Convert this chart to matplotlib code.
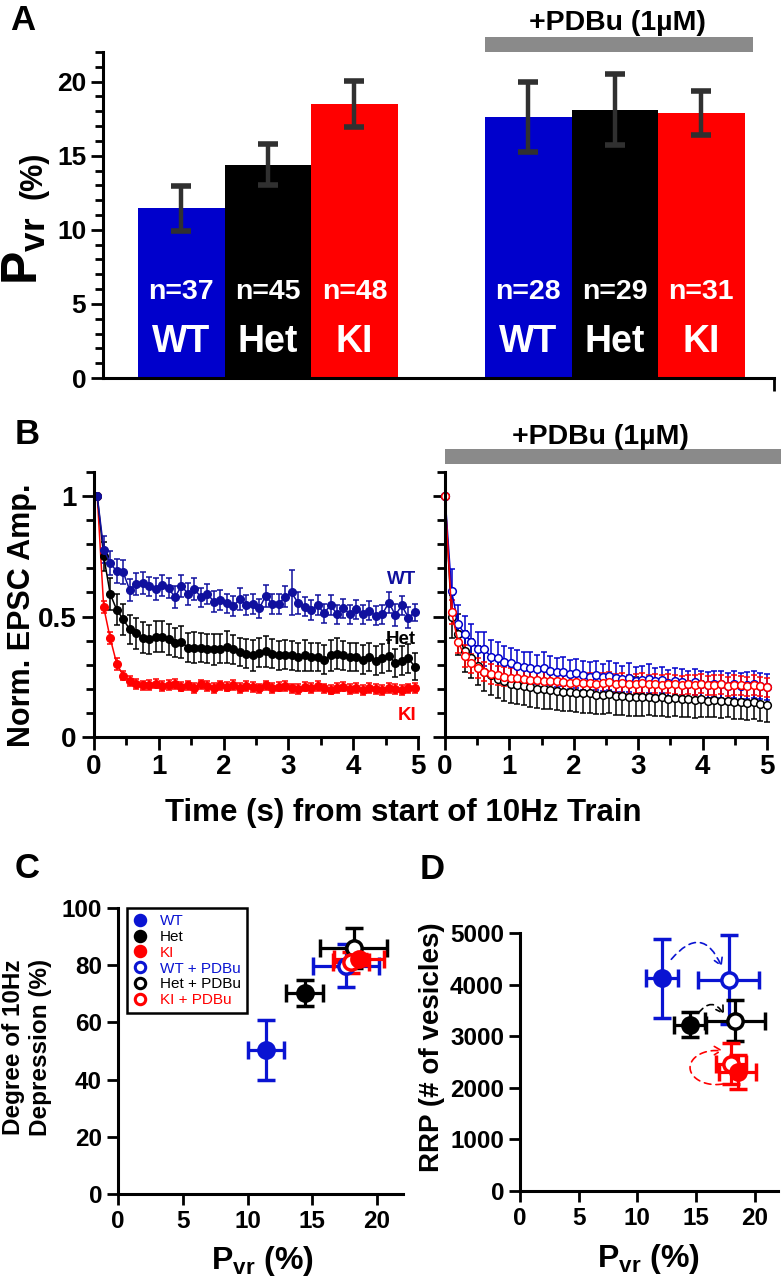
import numpy as np
import matplotlib
matplotlib.use("Agg")
import matplotlib.pyplot as plt
from matplotlib.patches import Rectangle, FancyArrowPatch
from matplotlib.path import Path
from matplotlib.lines import Line2D
from matplotlib.ticker import MultipleLocator, FuncFormatter

plt.rcParams['font.family'] = ['Liberation Sans', 'DejaVu Sans']
plt.rcParams['font.weight'] = 'bold'
plt.rcParams['axes.linewidth'] = 2.2
plt.rcParams['mathtext.fontset'] = 'custom'
plt.rcParams['mathtext.bf'] = 'Liberation Sans:bold'
plt.rcParams['mathtext.rm'] = 'Liberation Sans:bold'

# ---- panel A data ----
genotypes = ["WT", "Het", "KI"]
n_ctrl = [37, 45, 48]
n_pdbu = [28, 29, 31]
pvr_ctrl = [11.45, 14.4, 18.5]
pvr_ctrl_err = [1.5, 1.4, 1.55]
pvr_pdbu = [17.6, 18.1, 17.9]
pvr_pdbu_err = [2.35, 2.4, 1.5]

# ---- panel B data (normalised EPSC amplitude, 10 Hz train) ----
wt_ctrl = [1.000, 0.778, 0.722, 0.688, 0.684, 0.611, 0.636, 0.639, 0.625, 0.615,
           0.629, 0.618, 0.580, 0.628, 0.594, 0.615, 0.580, 0.594, 0.562, 0.569,
           0.555, 0.544, 0.573, 0.548, 0.552, 0.534, 0.586, 0.552, 0.552, 0.583,
           0.600, 0.555, 0.541, 0.527, 0.548, 0.513, 0.548, 0.510, 0.534, 0.510,
           0.530, 0.509, 0.524, 0.503, 0.510, 0.558, 0.506, 0.546, 0.496, 0.517]
wt_ctrl_err = [0.0, 0.055, 0.05, 0.05, 0.05, 0.045, 0.045, 0.045, 0.04, 0.045,
               0.045, 0.04, 0.045, 0.045, 0.045, 0.045, 0.04, 0.04, 0.045, 0.04,
               0.04, 0.04, 0.045, 0.04, 0.04, 0.04, 0.045, 0.04, 0.04, 0.045,
               0.095, 0.045, 0.04, 0.04, 0.04, 0.04, 0.04, 0.04, 0.04, 0.04,
               0.04, 0.04, 0.04, 0.04, 0.04, 0.045, 0.045, 0.04, 0.045, 0.035]
het_ctrl = [1.000, 0.750, 0.594, 0.528, 0.489, 0.447, 0.430, 0.413, 0.405, 0.416,
            0.416, 0.406, 0.391, 0.395, 0.371, 0.371, 0.370, 0.367, 0.364, 0.367,
            0.374, 0.364, 0.353, 0.346, 0.339, 0.349, 0.356, 0.346, 0.339, 0.342,
            0.339, 0.332, 0.339, 0.332, 0.332, 0.321, 0.339, 0.346, 0.339, 0.332,
            0.332, 0.321, 0.332, 0.317, 0.327, 0.337, 0.307, 0.317, 0.327, 0.292]
het_ctrl_err = [0.0, 0.06, 0.065, 0.065, 0.065, 0.06, 0.065, 0.065, 0.06, 0.065,
                0.065, 0.065, 0.06, 0.065, 0.06, 0.065, 0.06, 0.06, 0.065, 0.06,
                0.065, 0.06, 0.06, 0.06, 0.065, 0.06, 0.065, 0.06, 0.06, 0.06,
                0.06, 0.06, 0.065, 0.06, 0.06, 0.06, 0.065, 0.065, 0.06, 0.06,
                0.06, 0.06, 0.06, 0.06, 0.06, 0.065, 0.06, 0.06, 0.06, 0.055]
ki_ctrl = [1.000, 0.538, 0.410, 0.305, 0.255, 0.232, 0.219, 0.214, 0.216, 0.222,
           0.212, 0.216, 0.219, 0.209, 0.214, 0.204, 0.218, 0.212, 0.204, 0.214,
           0.209, 0.217, 0.204, 0.212, 0.208, 0.202, 0.214, 0.204, 0.209, 0.212,
           0.202, 0.199, 0.209, 0.204, 0.212, 0.202, 0.197, 0.204, 0.209, 0.199,
           0.204, 0.194, 0.204, 0.199, 0.194, 0.204, 0.199, 0.194, 0.202, 0.204]
ki_ctrl_err = [0.0, 0.025, 0.025, 0.025, 0.02, 0.02, 0.02, 0.02, 0.02, 0.02,
               0.02, 0.02, 0.02, 0.02, 0.02, 0.02, 0.02, 0.02, 0.02, 0.02,
               0.02, 0.02, 0.02, 0.02, 0.02, 0.02, 0.02, 0.02, 0.02, 0.02,
               0.02, 0.02, 0.02, 0.02, 0.02, 0.02, 0.02, 0.02, 0.02, 0.02,
               0.02, 0.02, 0.02, 0.02, 0.02, 0.02, 0.02, 0.02, 0.02, 0.02]

wt_pdbu = [1.000, 0.606, 0.469, 0.426, 0.394, 0.366, 0.366, 0.331, 0.328, 0.311,
           0.306, 0.296, 0.291, 0.286, 0.281, 0.286, 0.276, 0.268, 0.271, 0.261,
           0.264, 0.256, 0.251, 0.256, 0.248, 0.254, 0.246, 0.241, 0.246, 0.234,
           0.238, 0.241, 0.231, 0.236, 0.224, 0.231, 0.228, 0.221, 0.228, 0.221,
           0.216, 0.221, 0.218, 0.211, 0.218, 0.211, 0.214, 0.218, 0.211, 0.208]
wt_pdbu_err = [0.0, 0.09, 0.08, 0.075, 0.075, 0.07, 0.07, 0.07, 0.065, 0.065,
               0.065, 0.065, 0.06, 0.065, 0.06, 0.065, 0.06, 0.06, 0.06, 0.06,
               0.06, 0.06, 0.06, 0.06, 0.055, 0.06, 0.06, 0.055, 0.06, 0.055,
               0.055, 0.06, 0.055, 0.055, 0.055, 0.055, 0.055, 0.055, 0.055, 0.055,
               0.055, 0.055, 0.055, 0.055, 0.055, 0.055, 0.055, 0.055, 0.055, 0.055]
het_pdbu = [1.000, 0.500, 0.426, 0.356, 0.326, 0.296, 0.271, 0.256, 0.241, 0.231,
            0.221, 0.216, 0.211, 0.206, 0.201, 0.198, 0.196, 0.191, 0.188, 0.186,
            0.184, 0.181, 0.181, 0.176, 0.174, 0.178, 0.171, 0.171, 0.166, 0.168,
            0.164, 0.166, 0.161, 0.164, 0.158, 0.161, 0.156, 0.158, 0.154, 0.156,
            0.151, 0.154, 0.148, 0.151, 0.146, 0.146, 0.141, 0.144, 0.136, 0.131]
het_pdbu_err = [0.0, 0.09, 0.085, 0.085, 0.08, 0.08, 0.08, 0.08, 0.08, 0.08,
                0.08, 0.08, 0.08, 0.08, 0.08, 0.08, 0.08, 0.08, 0.08, 0.08,
                0.08, 0.08, 0.08, 0.08, 0.08, 0.08, 0.08, 0.08, 0.08, 0.08,
                0.075, 0.075, 0.075, 0.075, 0.075, 0.075, 0.075, 0.075, 0.075, 0.075,
                0.07, 0.07, 0.07, 0.07, 0.07, 0.07, 0.07, 0.07, 0.07, 0.07]
ki_pdbu = [1.000, 0.518, 0.394, 0.336, 0.306, 0.286, 0.271, 0.261, 0.256, 0.251,
           0.246, 0.244, 0.241, 0.236, 0.238, 0.234, 0.231, 0.231, 0.228, 0.226,
           0.228, 0.224, 0.226, 0.221, 0.224, 0.228, 0.221, 0.224, 0.218, 0.221,
           0.224, 0.218, 0.221, 0.216, 0.221, 0.218, 0.214, 0.218, 0.216, 0.221,
           0.214, 0.216, 0.218, 0.211, 0.216, 0.214, 0.211, 0.216, 0.211, 0.206]
ki_pdbu_err = [0.0, 0.05, 0.045, 0.045, 0.04, 0.04, 0.04, 0.04, 0.04, 0.04,
               0.04, 0.04, 0.04, 0.04, 0.04, 0.04, 0.04, 0.04, 0.04, 0.04,
               0.04, 0.04, 0.04, 0.04, 0.04, 0.04, 0.04, 0.04, 0.04, 0.04,
               0.04, 0.04, 0.04, 0.04, 0.04, 0.04, 0.04, 0.04, 0.04, 0.04,
               0.04, 0.04, 0.04, 0.04, 0.04, 0.04, 0.04, 0.04, 0.04, 0.04]

# stimulus times of the 50-pulse train
t_ctrl = (np.arange(50) + 0.5) / 10.0
t_pdbu = np.linspace(0, 5, 50)

# ---- panels C & D data ----
conditions = ["WT", "Het", "KI", "WT + PDBu", "Het + PDBu", "KI + PDBu"]
pvr_c = [11.4, 14.4, 18.6, 17.6, 18.2, 18.0]
pvr_c_err = [1.4, 1.4, 1.9, 2.55, 2.6, 1.4]
depression = [50.3, 70.3, 82.0, 79.8, 86.0, 81.0]
depression_err = [10.6, 4.7, 2.0, 7.5, 7.0, 3.6]

pvr_d = [12.1, 14.5, 18.55, 17.8, 18.3, 18.0]
pvr_d_err = [1.35, 1.4, 1.6, 2.6, 2.55, 1.3]
rrp = [4120, 3225, 2315, 4095, 3300, 2470]
rrp_err = [770, 250, 330, 860, 400, 400]

BLUE = '#0000CC'
NAVY = '#10109E'
RED = '#FF0000'
BLACK = '#000000'
GRAY = '#8A8A8A'
bar_colors = [BLUE, BLACK, RED]
pt_colors = ['#0A14D2', BLACK, RED, '#0A14D2', BLACK, RED]
pt_filled = [True, True, True, False, False, False]

W, H = 781, 1280
fig = plt.figure(figsize=(W / 100, H / 100), dpi=100)


def px_axes(left, top, right, bottom):
    return fig.add_axes([left / W, 1 - bottom / H, (right - left) / W, (bottom - top) / H])


def style(ax, lab=16):
    for s in ['top', 'right']:
        ax.spines[s].set_visible(False)
    ax.tick_params(which='major', direction='out', length=9, width=2, labelsize=lab)
    ax.tick_params(which='minor', direction='out', length=5.5, width=2)


# ---------------- Panel A ----------------
axA = px_axes(103.5, 52, 774, 378)
style(axA, 19)
x_ctrl = np.arange(3) + 0.9
x_pdbu = np.arange(3) + 4.91
ekw = dict(ecolor='#303030', elinewidth=3.2, capsize=7, capthick=4)
axA.bar(x_ctrl, pvr_ctrl, width=1.0, color=bar_colors, yerr=pvr_ctrl_err, error_kw=ekw)
axA.bar(x_pdbu, pvr_pdbu, width=1.0, color=bar_colors, yerr=pvr_pdbu_err, error_kw=ekw)
axA.set_xlim(0, 7.75)
axA.set_ylim(0, 22)
axA.yaxis.set_major_locator(MultipleLocator(5))
axA.yaxis.set_minor_locator(MultipleLocator(1))
axA.set_xticks([7.75])
axA.set_xticklabels([''])
for xs, ns in [(x_ctrl, n_ctrl), (x_pdbu, n_pdbu)]:
    for xi, n, g in zip(xs, ns, genotypes):
        axA.text(xi, 5.8, f'n={n}', color='white', ha='center', va='center', fontsize=20.5)
        axA.text(xi, 2.4, g, color='white', ha='center', va='center', fontsize=27)
axA.add_patch(Rectangle((x_pdbu[0] - 0.5, 22.0), 3.1, 1.0, color=GRAY, clip_on=False, lw=0))
fig.text(617 / W, 1 - 23 / H, '+PDBu (1µM)', ha='center', va='center', fontsize=20.5)
fig.text(24 / W, 1 - 251 / H, r'$\mathbf{P_{vr}}$', rotation=90, ha='center', va='center', fontsize=36)
fig.text(34 / W, 1 - 175 / H, '(%)', rotation=90, ha='center', va='center', fontsize=22)

# ---------------- Panel B ----------------
axBL = px_axes(94, 472, 418, 737)
axBR = px_axes(445, 472, 767, 737)
for ax in (axBL, axBR):
    style(ax, 20)
    ax.set_xlim(0, 5)
    ax.set_ylim(0, 1.1)
    ax.xaxis.set_major_locator(MultipleLocator(1))
    ax.xaxis.set_minor_locator(MultipleLocator(0.5))
    ax.yaxis.set_major_locator(MultipleLocator(0.5))
    ax.yaxis.set_minor_locator(MultipleLocator(0.1))
    ax.yaxis.set_major_formatter(FuncFormatter(lambda v, p: f'{v:g}'))
axBR.tick_params(axis='y', labelleft=False)

bkw = dict(lw=1.1, elinewidth=1.1, capsize=2.5, capthick=1.1, clip_on=False)
for vals, errs, c in [(ki_ctrl, ki_ctrl_err, RED), (het_ctrl, het_ctrl_err, BLACK),
                      (wt_ctrl, wt_ctrl_err, NAVY)]:
    axBL.errorbar(t_ctrl, vals, yerr=errs, color=c, marker='o', ms=5.5, mec=c, **bkw)
for vals, errs, c in [(het_pdbu, het_pdbu_err, BLACK), (wt_pdbu, wt_pdbu_err, BLUE),
                      (ki_pdbu, ki_pdbu_err, RED)]:
    axBR.errorbar(t_pdbu, vals, yerr=errs, color=c, marker='o', ms=5.5, mfc='white',
                  mec=c, mew=1.1, **bkw)
axBL.text(4.97, 0.653, 'WT', color=NAVY, ha='right', va='center', fontsize=13.5)
axBL.text(4.97, 0.403, 'Het', color=BLACK, ha='right', va='center', fontsize=13.5)
axBL.text(4.97, 0.09, 'KI', color=RED, ha='right', va='center', fontsize=13.5)
axBR.add_patch(Rectangle((0, 1.030), 1.05, 0.057, transform=axBR.transAxes,
                         color=GRAY, clip_on=False, lw=0))
fig.text(600 / W, 1 - 437 / H, '+PDBu (1µM)', ha='center', va='center', fontsize=20.5)
fig.text(403 / W, 1 - 813 / H, 'Time (s) from start of 10Hz Train', ha='center', va='center', fontsize=22.5)
fig.text(22 / W, 1 - 615 / H, 'Norm. EPSC Amp.', rotation=90, ha='center', va='center', fontsize=22)

# ---------------- Panels C & D ----------------
axC = px_axes(118, 908, 403, 1194)
axD = px_axes(520, 933, 778, 1191)
for ax in (axC, axD):
    style(ax, 17.5)
    ax.tick_params(which='major', length=8)
    ax.set_xlim(0, 22)
    ax.set_xticks([0, 5, 10, 15, 20])
axC.set_ylim(0, 100)
axC.set_yticks([0, 20, 40, 60, 80, 100])
axD.set_ylim(0, 5000)
axD.set_yticks([0, 1000, 2000, 3000, 4000, 5000])

order = [0, 1, 3, 4, 5, 2]
for ax, xs, xe, ys, ye in [(axC, pvr_c, pvr_c_err, depression, depression_err),
                           (axD, pvr_d, pvr_d_err, rrp, rrp_err)]:
    for i in order:
        c = pt_colors[i]
        ax.errorbar(xs[i], ys[i], xerr=xe[i], yerr=ye[i], color=c, marker='o', ms=11,
                    mfc=c if pt_filled[i] else 'white', mec=c, mew=2.5,
                    elinewidth=2.3, capsize=6.5, capthick=2.3, clip_on=False, zorder=3)

handles = [Line2D([], [], ls='none', marker='o', ms=7.5, mew=2.2, color=c,
                  mfc=c if f else 'white', mec=c) for c, f in zip(pt_colors, pt_filled)]
leg = axC.legend(handles, conditions, loc='upper left', bbox_to_anchor=(0.03, 1.0),
                 borderaxespad=0, frameon=True, fancybox=False, framealpha=1,
                 edgecolor='black', handlelength=1.0, handletextpad=0.8,
                 labelspacing=0.12, borderpad=0.4,
                 prop={'size': 11, 'weight': 'normal'})
leg.get_frame().set_linewidth(1.8)
for txt, c in zip(leg.get_texts(), pt_colors):
    txt.set_color(c)

fig.text(27 / W, 1 - 1047 / H, 'Degree of 10Hz\nDepression (%)', rotation=90,
         ha='center', va='center', fontsize=17.5, linespacing=1.2)
fig.text(262 / W, 1 - 1261 / H, r'$\mathbf{P_{vr}}$ (%)', ha='center', va='center', fontsize=23)

akw = dict(arrowstyle='->,head_length=5,head_width=3', lw=1.2, linestyle=(0, (4, 3)),
           shrinkA=0, shrinkB=0, zorder=4)
axD.add_patch(FancyArrowPatch((pvr_d[0] + 0.8, rrp[0] + 370), (pvr_d[3] - 0.6, rrp[3] + 250),
                              connectionstyle='arc3,rad=-0.8', color=pt_colors[0], **akw))
axD.add_patch(FancyArrowPatch((pvr_d[1] + 0.7, rrp[1] + 220), (pvr_d[4] - 0.9, rrp[4] + 120),
                              connectionstyle='arc3,rad=-0.7', color=BLACK, **akw))
# red loop: from KI round the left side up to KI + PDBu
theta = np.radians(np.linspace(-75, -265, 40))
cx, cy = pvr_d[5] - 1.3, (rrp[2] + rrp[5]) / 2
loop = np.column_stack([cx + 2.2 * np.cos(theta), cy + 330 * np.sin(theta)])
loop = np.vstack([loop, [pvr_d[5] - 0.7, cy + 330]])
axD.add_patch(FancyArrowPatch(path=Path(loop), color=RED, **akw))
fig.text(432 / W, 1 - 1047 / H, 'RRP (# of vesicles)', rotation=90,
         ha='center', va='center', fontsize=20)
fig.text(648 / W, 1 - 1259 / H, r'$\mathbf{P_{vr}}$ (%)', ha='center', va='center', fontsize=23)

# panel letters
for lab, x, y in [('A', 10, 4), ('B', 15, 418), ('C', 15, 852), ('D', 420, 853)]:
    fig.text(x / W, 1 - y / H, lab, ha='left', va='top', fontsize=25)

fig.savefig('out.png', dpi=100)
